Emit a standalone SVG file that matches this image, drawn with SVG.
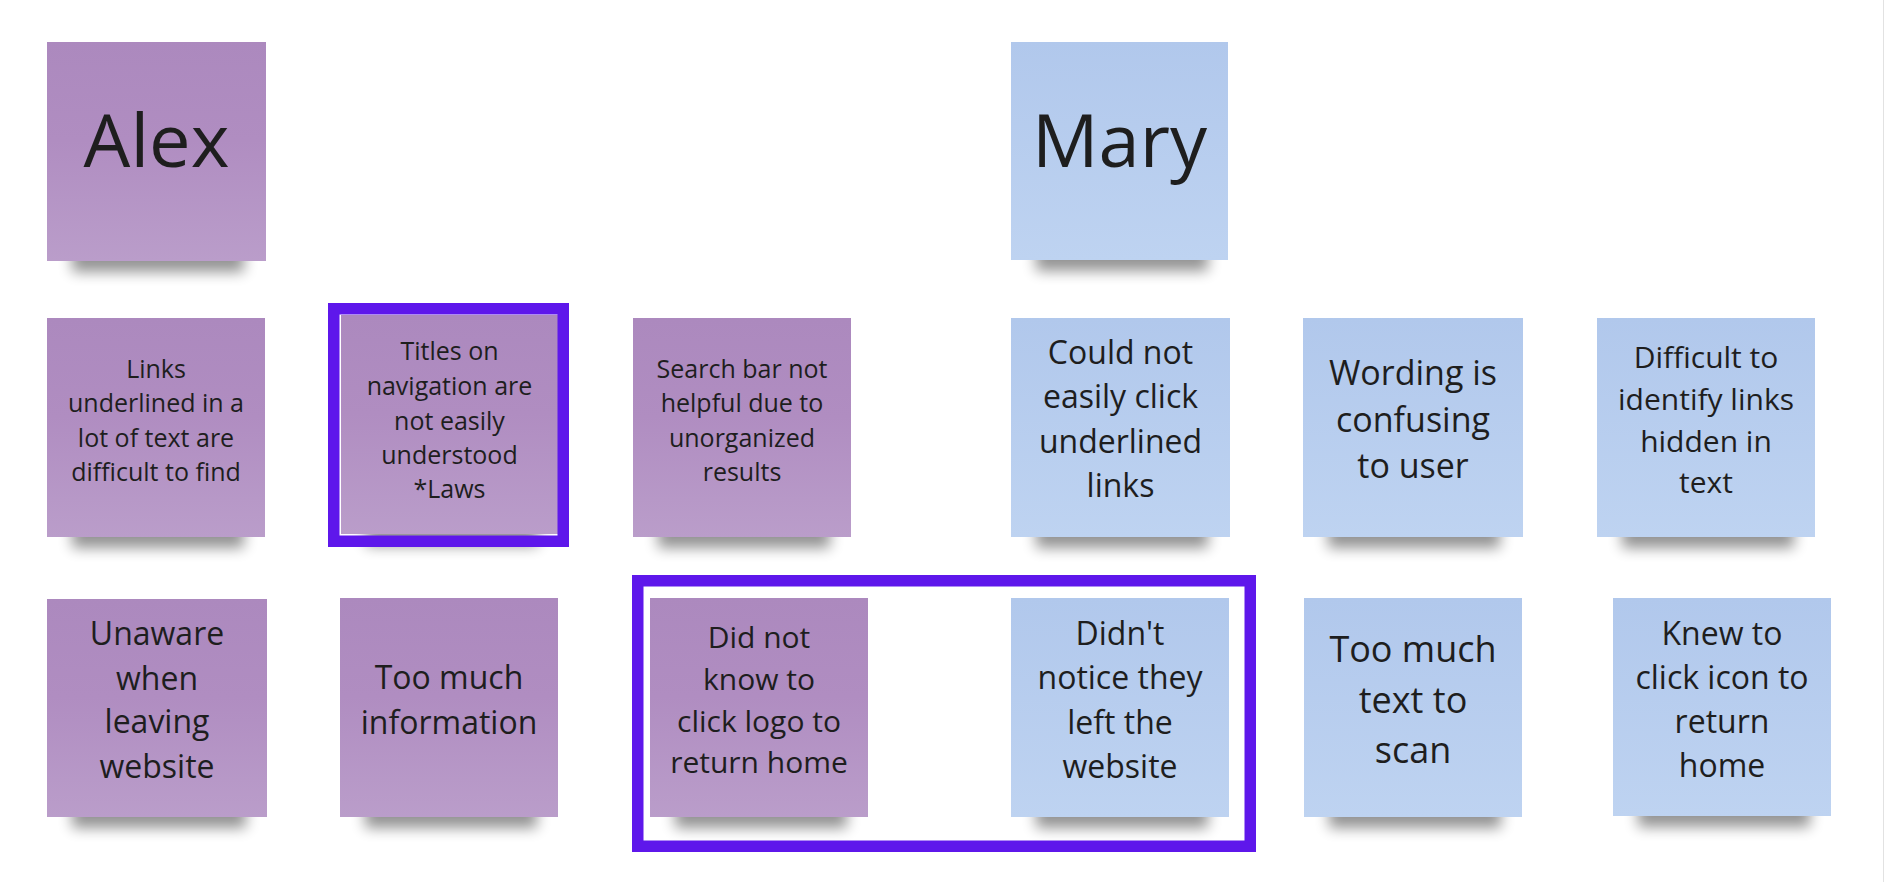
<svg xmlns="http://www.w3.org/2000/svg" width="1886" height="882" viewBox="0 0 1886 882">
<style>
.t{font-family:"Open Sans","Noto Sans","Liberation Sans",sans-serif;fill:#1e1e1e;text-anchor:middle}
.p{fill:url(#gp)}
.b{fill:url(#gb)}
.sh{fill:#000;opacity:.42;filter:url(#sb)}
.hl{fill:none;stroke:#5E17EB;stroke-width:11.5}
</style>
<defs>
<linearGradient id="gp" x1="0" y1="0" x2="0" y2="1">
<stop offset="0" stop-color="#AC89BE"/>
<stop offset="0.45" stop-color="#B08DC1"/>
<stop offset="1" stop-color="#BA9DCA"/>
</linearGradient>
<linearGradient id="gb" x1="0" y1="0" x2="0" y2="1">
<stop offset="0" stop-color="#B1C8EC"/>
<stop offset="1" stop-color="#BED3F1"/>
</linearGradient>
<filter id="sb" x="-30%" y="-150%" width="160%" height="400%">
<feGaussianBlur stdDeviation="7"/>
</filter>
</defs>
<rect width="1886" height="882" fill="#fff"/>
<line x1="1883.5" y1="0" x2="1883.5" y2="882" stroke="#e2e2e2" stroke-width="1"/>

<g id="alex">
<rect class="sh" x="72" y="236" width="172" height="36"/>
<rect class="p" x="47" y="42" width="219" height="219"/>
<text class="t" x="156.5" y="167" font-size="74">Alex</text>
</g>
<g id="mary">
<rect class="sh" x="1036" y="235" width="172" height="36"/>
<rect class="b" x="1011" y="42" width="217" height="218"/>
<text class="t" x="1119.5" y="167" font-size="74">Mary</text>
</g>

<g id="links">
<rect class="sh" x="72" y="512" width="172" height="36"/>
<rect class="p" x="47" y="318" width="218" height="219"/>
<text class="t" font-size="25"><tspan x="156" y="378">Links</tspan><tspan x="156" y="412">underlined in a</tspan><tspan x="156" y="447">lot of text are</tspan><tspan x="156" y="481">difficult to find</tspan></text>
</g>
<g id="titles">
<rect class="sh" x="366" y="510" width="172" height="36"/>
<rect class="p" x="341" y="315" width="217" height="219"/>
<text class="t" font-size="25"><tspan x="449.5" y="360">Titles on</tspan><tspan x="449.5" y="395">navigation are</tspan><tspan x="449.5" y="430">not easily</tspan><tspan x="449.5" y="464">understood</tspan><tspan x="449.5" y="498">*Laws</tspan></text>
</g>
<g id="search">
<rect class="sh" x="658" y="512" width="172" height="36"/>
<rect class="p" x="633" y="318" width="218" height="219"/>
<text class="t" font-size="25"><tspan x="742" y="378">Search bar not</tspan><tspan x="742" y="412">helpful due to</tspan><tspan x="742" y="447">unorganized</tspan><tspan x="742" y="481">results</tspan></text>
</g>
<g id="could">
<rect class="sh" x="1036" y="512" width="172" height="36"/>
<rect class="b" x="1011" y="318" width="219" height="219"/>
<text class="t" font-size="32"><tspan x="1120.5" y="364">Could not</tspan><tspan x="1120.5" y="408">easily click</tspan><tspan x="1120.5" y="453">underlined</tspan><tspan x="1120.5" y="497">links</tspan></text>
</g>
<g id="wording">
<rect class="sh" x="1328" y="512" width="172" height="36"/>
<rect class="b" x="1303" y="318" width="220" height="219"/>
<text class="t" font-size="34"><tspan x="1413" y="385">Wording is</tspan><tspan x="1413" y="432">confusing</tspan><tspan x="1413" y="478">to user</tspan></text>
</g>
<g id="difficult">
<rect class="sh" x="1622" y="512" width="172" height="36"/>
<rect class="b" x="1597" y="318" width="218" height="219"/>
<text class="t" font-size="30"><tspan x="1706" y="368">Difficult to</tspan><tspan x="1706" y="410">identify links</tspan><tspan x="1706" y="452">hidden in</tspan><tspan x="1706" y="493">text</tspan></text>
</g>

<g id="unaware">
<rect class="sh" x="72" y="792" width="174" height="36"/>
<rect class="p" x="47" y="599" width="220" height="218"/>
<text class="t" font-size="32"><tspan x="157" y="645">Unaware</tspan><tspan x="157" y="690">when</tspan><tspan x="157" y="733">leaving</tspan><tspan x="157" y="778">website</tspan></text>
</g>
<g id="too-much-information">
<rect class="sh" x="365" y="792" width="172" height="36"/>
<rect class="p" x="340" y="598" width="218" height="219"/>
<text class="t" font-size="32"><tspan x="449" y="689">Too much</tspan><tspan x="449" y="734">information</tspan></text>
</g>
<g id="did-not-know">
<rect class="sh" x="675" y="792" width="172" height="36"/>
<rect class="p" x="650" y="598" width="218" height="219"/>
<text class="t" font-size="30"><tspan x="759" y="648">Did not</tspan><tspan x="759" y="690">know to</tspan><tspan x="759" y="732">click logo to</tspan><tspan x="759" y="773">return home</tspan></text>
</g>
<g id="didnt-notice">
<rect class="sh" x="1036" y="792" width="172" height="36"/>
<rect class="b" x="1011" y="598" width="218" height="219"/>
<text class="t" font-size="32"><tspan x="1120" y="645">Didn't</tspan><tspan x="1120" y="689">notice they</tspan><tspan x="1120" y="734">left the</tspan><tspan x="1120" y="778">website</tspan></text>
</g>
<g id="too-much-text">
<rect class="sh" x="1329" y="792" width="172" height="36"/>
<rect class="b" x="1304" y="598" width="218" height="219"/>
<text class="t" font-size="36"><tspan x="1413" y="662">Too much</tspan><tspan x="1413" y="713">text to</tspan><tspan x="1413" y="763">scan</tspan></text>
</g>
<g id="knew-to-click">
<rect class="sh" x="1638" y="791" width="172" height="36"/>
<rect class="b" x="1613" y="598" width="218" height="218"/>
<text class="t" font-size="32"><tspan x="1722" y="645">Knew to</tspan><tspan x="1722" y="689">click icon to</tspan><tspan x="1722" y="733">return</tspan><tspan x="1722" y="777">home</tspan></text>
</g>

<g id="connectors">
<rect id="highlight-titles" class="hl" x="333.75" y="308.75" width="229.5" height="232.5"/>
<rect id="highlight-return-home" class="hl" x="637.75" y="580.75" width="612.5" height="265.5"/>
</g>
</svg>
